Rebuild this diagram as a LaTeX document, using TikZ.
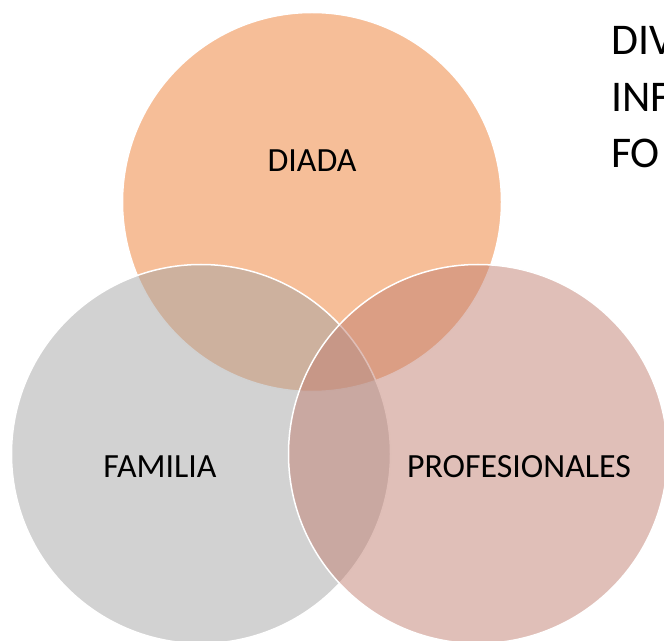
\documentclass[tikz,border=0pt]{standalone}
\usepackage{fontspec}
\setmainfont{Carlito}
\usetikzlibrary{positioning}

\definecolor{vennOrange}{HTML}{ED7D31}
\definecolor{vennGray}{HTML}{A5A5A5}
\definecolor{vennRose}{HTML}{C17F71}

\begin{document}
\begin{tikzpicture}[
    x=1bp, y=-1bp,
    venn/.style={circle, minimum size=379bp, inner sep=0pt, draw=white, line width=1.5bp, fill opacity=0.5},
    lbl/.style={font=\fontsize{34}{40}\selectfont, text=black, inner sep=0pt, anchor=base},
    head/.style={font=\fontsize{44}{52}\selectfont, text=black, inner sep=0pt, anchor=base west}
  ]
  \useasboundingbox (0,0) rectangle (664,641);

  \node[venn, fill=vennOrange] (diada) at (312,202) {};
  \node[venn, fill=vennGray] (familia) at (201,454) {};
  \node[venn, fill=vennRose] (prof) at (478,454) {};

  \node[lbl] (diadaL) at (312,172) {DIADA};
  \node[lbl] (familiaL) at (160,477) {FAMILIA};
  \node[lbl] (profL) at (519,477) {PROFESIONALES};

  \node[head] (h1) at (611,55) {DIV};
  \node[head] (h2) at (611,112) {INF};
  \node[head] (h3) at (611,168) {FO};

\end{tikzpicture}
\end{document}
